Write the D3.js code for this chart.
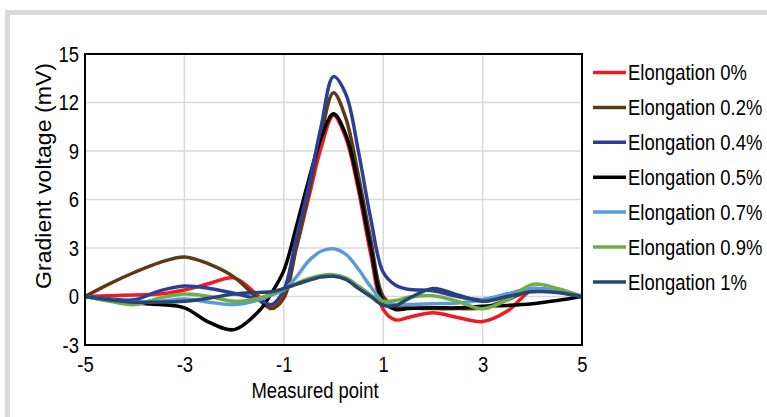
<!DOCTYPE html>
<html><head><meta charset="utf-8">
<script src="https://cdn.jsdelivr.net/npm/d3@7"></script>
<style>
html,body{margin:0;padding:0;background:#fff;}
text{font-family:"Liberation Sans",Arial,sans-serif;fill:#000;}
</style></head>
<body><svg id="c" width="767" height="417"></svg>
<script>
const xs = [-5,-4.5,-4,-3.5,-3,-2.5,-2,-1.5,-1.25,-1,-0.75,-0.5,-0.25,0,0.25,0.5,0.75,1,1.25,1.5,2,2.5,3,3.5,4,4.5,5];
const seriesNames = ["Elongation 0%","Elongation 0.2%","Elongation 0.4%","Elongation 0.5%","Elongation 0.7%","Elongation 0.9%","Elongation 1%"];
const e00 = [0,0.05,0.1,0.15,0.4,0.8,1.15,0.0,-0.7,0.3,3.0,6.1,9.2,11.2,9.8,6.6,2.6,-0.8,-1.45,-1.3,-1.0,-1.3,-1.55,-0.9,0.4,0.35,0];
const e02 = [0,0.8,1.5,2.1,2.45,2.0,1.2,-0.2,-0.75,-0.1,3.0,6.4,10.0,12.6,11.0,7.5,3.5,0.0,-0.6,-0.7,-0.75,-0.75,-0.7,-0.2,0.4,0.3,0];
const e04 = [0,-0.15,-0.2,0.35,0.65,0.5,0.2,-0.2,-0.5,0.4,3.6,6.8,10.5,13.6,12.5,9.0,4.8,1.5,0.7,0.45,0.35,0.0,-0.2,0.15,0.5,0.3,0];
const e05 = [0,-0.25,-0.4,-0.5,-0.7,-1.6,-2.05,-0.9,0.2,1.6,4.3,7.2,9.8,11.3,10.0,6.9,3.0,-0.3,-0.8,-0.75,-0.7,-0.7,-0.6,-0.55,-0.45,-0.25,0];
const e07 = [0,-0.2,-0.35,-0.3,-0.15,-0.35,-0.5,-0.2,0.1,0.4,1.2,2.2,2.8,2.95,2.6,1.7,0.6,-0.3,-0.5,-0.5,-0.45,-0.4,-0.2,0.15,0.5,0.35,0];
const e09 = [0,-0.3,-0.5,-0.1,0.15,0.0,-0.3,-0.1,0.15,0.45,0.8,1.1,1.3,1.35,1.15,0.65,0.1,-0.3,-0.25,-0.05,0.05,-0.3,-0.75,-0.2,0.75,0.5,0];
const e10 = [0,-0.2,-0.35,-0.35,-0.3,-0.1,0.15,0.25,0.3,0.5,0.75,1.0,1.2,1.25,1.05,0.5,0.0,-0.55,-0.55,-0.15,0.5,0.1,-0.3,0.0,0.3,0.25,0];
const colors = ["#ed1c24","#603913","#2e3d98","#000000","#5b9bd5","#70ad47","#254578"];
const xTicks = [-5,-3,-1,1,3,5];
const yTicks = [-3,0,3,6,9,12,15];
const xTitle = "Measured point";
const yTitle = "Gradient voltage (mV)";

const allSeries = [e00,e02,e04,e05,e07,e09,e10];
const SX = 0.82; // condensed look
const FS = 22.5;
const svg = d3.select("#c");
const m = {l:85, r:582, t:54, b:345};
const x = d3.scaleLinear().domain([-5,5]).range([m.l, m.r]);
const y = d3.scaleLinear().domain([-3,15]).range([m.b, m.t]);

// outer frame
svg.append("rect").attr("x",7.5).attr("y",12.5).attr("width",800).attr("height",500)
  .attr("fill","none").attr("stroke","#d9d9d9").attr("stroke-width",5);

// grid
svg.append("g").selectAll("line").data(xTicks.slice(1,-1)).join("line")
  .attr("x1",d=>x(d)).attr("x2",d=>x(d)).attr("y1",m.t).attr("y2",m.b)
  .attr("stroke","#d9d9d9").attr("stroke-width",1.5);
svg.append("g").selectAll("line").data(yTicks.slice(1,-1)).join("line")
  .attr("y1",d=>y(d)).attr("y2",d=>y(d)).attr("x1",m.l).attr("x2",m.r)
  .attr("stroke","#d9d9d9").attr("stroke-width",1.5);

// lines
const line = d3.line().x((d,i)=>x(xs[i])).y(d=>y(d)).curve(d3.curveCatmullRom.alpha(0.5));
svg.append("clipPath").attr("id","cp").append("rect")
  .attr("x",m.l).attr("y",m.t-10).attr("width",m.r-m.l).attr("height",m.b-m.t+10);
const order = [0,1,3,2,4,5,6];
svg.append("g").attr("clip-path","url(#cp)").selectAll("path").data(order).join("path")
  .attr("d",i=>line(allSeries[i])).attr("fill","none")
  .attr("stroke",i=>colors[i]).attr("stroke-width",3.5).attr("stroke-linejoin","round");

// plot border
svg.append("rect").attr("x",m.l).attr("y",m.t).attr("width",m.r-m.l).attr("height",m.b-m.t)
  .attr("fill","none").attr("stroke","#000").attr("stroke-width",2);

// axes
const xa = svg.append("g").attr("transform",`translate(0,${m.b})`)
  .call(d3.axisBottom(x).tickValues(xTicks).tickSize(0).tickPadding(11).tickFormat(d3.format("d")));
xa.select(".domain").remove();
const ya = svg.append("g").attr("transform",`translate(${m.l},0)`)
  .call(d3.axisLeft(y).tickValues(yTicks).tickSize(0).tickPadding(6).tickFormat(d3.format("d")));
ya.select(".domain").remove();
svg.selectAll(".tick text").attr("fill","#000").attr("font-size",FS).style("font-family",null)
  .attr("transform",`scale(${SX},1)`).text(d=>String(d).replace("\u2212","-"));
ya.selectAll(".tick text").attr("x",-6/SX);

svg.append("text").attr("transform",`translate(315,398) scale(${SX},1)`).attr("text-anchor","middle")
  .attr("font-size",FS).text(xTitle);
svg.append("text").attr("transform",`translate(51,176) rotate(-90)`)
  .attr("text-anchor","middle").attr("font-size",FS)
  .attr("textLength",226).attr("lengthAdjust","spacingAndGlyphs").text(yTitle);

// legend
const lg = svg.append("g").selectAll("g").data(seriesNames).join("g")
  .attr("transform",(d,i)=>`translate(593,${72.5+i*34.9})`);
lg.append("line").attr("x1",0).attr("x2",33).attr("stroke",(d,i)=>colors[i]).attr("stroke-width",3.5);
lg.append("text").attr("transform",`translate(35,0) scale(${SX},1)`).attr("dy","0.35em").attr("font-size",FS).text(d=>d);
</script></body></html>
